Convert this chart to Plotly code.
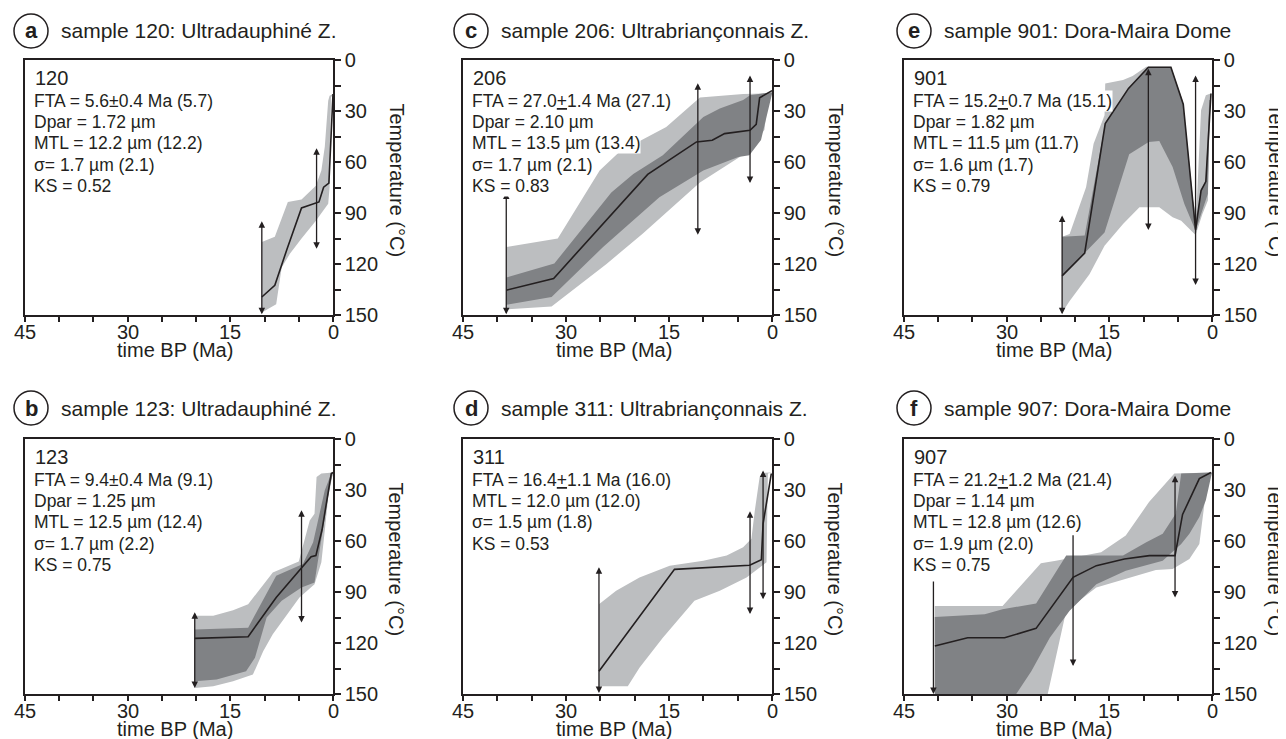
import plotly.graph_objects as go

# ---------------- data (time BP in Ma, temperature in °C) ----------------
# sample 120 (a)
s120_line_t = [10.4, 8.5, 6.7, 4.6, 2.05, 1.37, 0.6, 0.1, 0.0]
s120_line_T = [139.4, 132.5, 111, 87, 83.5, 74.8, 72.4, 25, 20]
s120_light_up_t = [10.4, 8.5, 6.6, 4.6, 2.5, 1.7, 1.2, 0.7, 0.5, 0.0]
s120_light_up_T = [107, 104, 83.5, 82, 74, 65, 51, 24, 21, 20]
s120_light_lo_t = [10.4, 8.3, 7.5, 6.3, 4.6, 2.5, 0.7, 0.5, 0.3]
s120_light_lo_T = [148.6, 143.7, 122, 114, 105, 94.5, 84.6, 75, 22]
s120_err_t = [10.4, 2.4]
s120_err_top = [94, 51]
s120_err_bot = [149.6, 111]

# sample 123 (b)
s123_line_t = [20.2, 12.4, 8.3, 3.2, 2.5, 1.6, 0.25, 0.0]
s123_line_T = [117.3, 116.3, 93.2, 69.2, 68.6, 53.4, 20.3, 19.7]
s123_light_up_t = [20.2, 17.5, 14.6, 12.4, 8.8, 5.0, 3.4, 2.7, 2.4, 1.7, 0.0]
s123_light_up_T = [104, 104, 100.7, 97.2, 78.5, 72, 47.9, 44, 22.3, 20.3, 19.7]
s123_light_lo_t = [20.2, 17.5, 14.6, 11.7, 10.2, 8.8, 4.9, 2.7, 1.7, 1.2, 0.7, 0.0]
s123_light_lo_T = [146.5, 145.5, 142.5, 138.6, 124.8, 114.9, 93.2, 85.4, 72.5, 53.8, 34.1, 19.7]
s123_dark_up_t = [20.2, 12.4, 8.3, 4.4, 2.9, 2.2, 1.2, 0.25, 0.0]
s123_dark_up_T = [112, 111, 80.4, 73.5, 60.7, 48.9, 30.2, 20.3, 19.7]
s123_dark_lo_t = [20.2, 17.0, 12.7, 11.4, 9.7, 7.5, 4.6, 2.7, 2.2, 1.5, 0.5, 0.0]
s123_dark_lo_T = [142.5, 141.5, 136.6, 128.7, 105, 95.2, 87.3, 84.4, 72.5, 53.8, 28.2, 19.7]
s123_err_t = [20.2, 4.6]
s123_err_top = [101, 41]
s123_err_bot = [146.5, 108]

# sample 206 (c)
s206_line_t = [38.7, 31.8, 18.1, 11.0, 8.7, 6.9, 3.2, 2.3, 1.8, 0.0]
s206_line_T = [135.4, 128.5, 67.3, 48.2, 47.2, 43.3, 41.3, 37.8, 22.2, 18]
s206_light_up_t = [38.7, 31.2, 25.1, 22.2, 15.4, 10.5, 4.2, 0.0]
s206_light_up_T = [110, 105, 65, 54, 39.4, 22, 20, 19.5]
s206_light_lo_t = [38.7, 32.1, 24.1, 18.8, 10.5, 4.7, 1.8, 1.1, 0.6, 0.0]
s206_light_lo_T = [146.7, 145, 120, 102, 72, 57, 45, 41, 23.6, 19.5]
s206_dark_up_t = [38.7, 31.7, 23.4, 20.2, 15.9, 10.0, 7.6, 4.2, 3.2, 0.0]
s206_dark_up_T = [128, 119.7, 78, 67, 56, 33.5, 28.5, 23.6, 20.7, 19]
s206_dark_lo_t = [38.7, 32.1, 24.6, 16.4, 10.0, 4.9, 3.3, 1.6, 0.8, 0.0]
s206_dark_lo_T = [144, 139.4, 110, 80.7, 65, 57, 56, 47, 33.5, 20]
s206_err_t = [38.7, 10.8, 3.2]
s206_err_top = [77, 12.8, 8.3]
s206_err_bot = [149.6, 102.8, 72.4]

# sample 311 (d)
s311_line_t = [25.2, 14.2, 3.25, 1.55, 1.3, 0.1]
s311_line_T = [136.6, 76.7, 74.3, 71, 49.9, 20.3]
s311_light_up_t = [25.2, 22.7, 19.3, 14.9, 10.0, 6.6, 4.2, 3.0, 2.5, 2.3, 1.8, 1.1, 0.0]
s311_light_up_T = [97.2, 89.3, 81.4, 74.5, 71.6, 68.6, 63.7, 58.7, 42, 36, 22.3, 19.9, 19.7]
s311_light_lo_t = [25.2, 21.0, 19.3, 15.9, 11.3, 7.6, 3.7, 0.8, 0.6]
s311_light_lo_T = [145.5, 145.5, 134.6, 116.9, 95.2, 89.3, 81.4, 72.5, 20.3]
s311_err_t = [25.2, 3.2, 1.3]
s311_err_top = [74.5, 41.6, 17.7]
s311_err_bot = [149.4, 103, 94.2]

# sample 901 (e)
s901_line_t = [21.9, 18.6, 15.6, 12.2, 9.3, 8.8, 6.0, 4.2, 2.4, 1.6, 0.9, 0.15]
s901_line_T = [127, 113.6, 37.4, 16.7, 4.3, 4.3, 4.3, 26, 100, 76.8, 71.5, 19.7]
s901_light_up_t = [21.9, 20.8, 18.4, 17.3, 15.7, 15.6, 13.0, 11.6, 9.6, 6.0, 4.3, 2.8, 2.3, 1.6, 0.9, 0.2]
s901_light_up_T = [103.9, 102.4, 74.8, 49.2, 32.5, 13.8, 11.8, 9.4, 3.9, 3.9, 23.6, 82.7, 90.6, 29.5, 20.7, 19.7]
s901_light_lo_t = [21.9, 20.8, 17.9, 15.7, 13.0, 10.6, 7.7, 5.75, 4.5, 2.4, 1.4, 0.6, 0.3]
s901_light_lo_T = [148.6, 141.7, 126, 109.3, 96.5, 86.6, 86.6, 92.5, 94.5, 103, 90.6, 82.7, 21.7]
s901_dark_up_t = [21.9, 18.6, 15.6, 12.2, 9.3, 6.0, 4.2, 2.4, 1.6, 0.9, 0.4]
s901_dark_up_T = [104, 103.3, 37.4, 16.7, 4.3, 4.3, 26, 96.9, 76.8, 70.9, 23.6]
s901_dark_lo_t = [21.9, 18.6, 15.7, 12.1, 9.25, 7.7, 5.75, 4.05, 2.4, 1.4, 0.6, 0.3]
s901_dark_lo_T = [127, 113.6, 101.4, 55.5, 48.2, 47.6, 63, 84.6, 100.4, 88.6, 78.7, 23.6]
s901_err_t = [21.9, 9.3, 2.4]
s901_err_top = [90.6, 4.3, 8.3]
s901_err_bot = [149.6, 100, 132.3]

# sample 907 (f)
s907_line_t = [40.5, 35.7, 30.3, 25.7, 20.3, 16.9, 12.8, 9.15, 5.4, 4.3, 1.85, 0.15]
s907_line_T = [121.8, 116.9, 116.9, 111.4, 81.4, 74.5, 70.6, 68.6, 68.6, 44.4, 23.3, 19.7]
s907_light_up_t = [40.5, 30.6, 25.0, 22.8, 16.2, 12.6, 9.2, 6.0, 5.5, 0.0]
s907_light_up_T = [98.2, 98.2, 73.1, 71.6, 66.6, 56.8, 37.1, 22.3, 20.3, 19.7]
s907_light_lo_t = [40.5, 24.0, 21.3, 16.9, 11.1, 8.2, 5.75, 3.3, 1.85, 1.1, 0.4, 0.0]
s907_light_lo_T = [150, 150, 101.1, 87.3, 80.4, 77.1, 76.5, 70.6, 61.7, 38, 20.3, 19.7]
s907_dark_up_t = [40.5, 33.2, 30.6, 25.7, 21.3, 13.0, 9.6, 7.2, 5.3, 4.5, 0.0]
s907_dark_up_T = [104.7, 103.1, 100.1, 96.8, 68.6, 68.6, 60.7, 55.8, 44, 20.3, 19.7]
s907_dark_lo_t = [40.5, 28.6, 26.4, 23.7, 20.8, 16.9, 12.6, 7.2, 4.5, 3.3, 1.85, 0.9, 0.0]
s907_dark_lo_T = [150, 150, 136.6, 116.9, 101.1, 85.4, 77.5, 71.6, 61.7, 55.8, 45.9, 36.1, 19.7]
s907_err_t = [40.7, 20.3, 5.4]
s907_err_top = [83, 55.8, 20.7]
s907_err_bot = [150, 133.6, 93.2]
s907_err_sides = ["end", "end", "end+start"]

# text
panel_letters = ["a", "c", "e", "b", "d", "f"]
panel_titles = ["sample 120: Ultradauphiné Z.", "sample 206: Ultrabriançonnais Z.",
                "sample 901: Dora-Maira Dome", "sample 123: Ultradauphiné Z.",
                "sample 311: Ultrabriançonnais Z.", "sample 907: Dora-Maira Dome"]
sample_ids = ["120", "206", "901", "123", "311", "907"]
info_lines = [
    ["FTA = 5.6±0.4 Ma (5.7)", "Dpar = 1.72 µm", "MTL = 12.2 µm (12.2)", "σ= 1.7 µm (2.1)", "KS = 0.52"],
    ["FTA = 27.0<u>+</u>1.4 Ma (27.1)", "Dpar = 2.10 µm", "MTL = 13.5 µm (13.4)", "σ= 1.7 µm (2.1)", "KS = 0.83"],
    ["FTA = 15.2<u>+</u>0.7 Ma (15.1)", "Dpar = 1.82 µm", "MTL = 11.5 µm (11.7)", "σ= 1.6 µm (1.7)", "KS = 0.79"],
    ["FTA = 9.4±0.4 Ma (9.1)", "Dpar = 1.25 µm", "MTL = 12.5 µm (12.4)", "σ= 1.7 µm (2.2)", "KS = 0.75"],
    ["FTA = 16.4<u>+</u>1.1 Ma (16.0)", "MTL = 12.0 µm (12.0)", "σ= 1.5 µm (1.8)", "KS = 0.53"],
    ["FTA = 21.2<u>+</u>1.2 Ma (21.4)", "Dpar = 1.14 µm", "MTL = 12.8 µm (12.6)", "σ= 1.9 µm (2.0)", "KS = 0.75"],
]
x_tickvals = [45, 30, 15, 0]
y_tickvals = [0, 30, 60, 90, 120, 150]
x_title = "time BP (Ma)"
y_title = "Temperature (°C)"

# ---------------- layout geometry (page pixels) ----------------
PAGE_W, PAGE_H = 1286, 739
OFF = 8                      # default page margin before the plot div
W, H = PAGE_W - OFF, PAGE_H - OFF
COLS = [(25, 333), (463, 772), (904, 1212)]
ROWS = [(60, 315), (439, 694)]
LIGHT = "#bcbec0"
DARK = "#808285"
INK = "#231f20"
FONT = "Liberation Sans, Arial, sans-serif"


def px(x):
    return (x - OFF) / W


def py(y):
    return 1 - (y - OFF) / H


panels = [
    dict(line=(s120_line_t, s120_line_T), light=(s120_light_up_t, s120_light_up_T, s120_light_lo_t, s120_light_lo_T),
         dark=None, err=(s120_err_t, s120_err_top, s120_err_bot, None)),
    dict(line=(s206_line_t, s206_line_T), light=(s206_light_up_t, s206_light_up_T, s206_light_lo_t, s206_light_lo_T),
         dark=(s206_dark_up_t, s206_dark_up_T, s206_dark_lo_t, s206_dark_lo_T), err=(s206_err_t, s206_err_top, s206_err_bot, None)),
    dict(line=(s901_line_t, s901_line_T), light=(s901_light_up_t, s901_light_up_T, s901_light_lo_t, s901_light_lo_T),
         dark=(s901_dark_up_t, s901_dark_up_T, s901_dark_lo_t, s901_dark_lo_T), err=(s901_err_t, s901_err_top, s901_err_bot, None)),
    dict(line=(s123_line_t, s123_line_T), light=(s123_light_up_t, s123_light_up_T, s123_light_lo_t, s123_light_lo_T),
         dark=(s123_dark_up_t, s123_dark_up_T, s123_dark_lo_t, s123_dark_lo_T), err=(s123_err_t, s123_err_top, s123_err_bot, None)),
    dict(line=(s311_line_t, s311_line_T), light=(s311_light_up_t, s311_light_up_T, s311_light_lo_t, s311_light_lo_T),
         dark=None, err=(s311_err_t, s311_err_top, s311_err_bot, None)),
    dict(line=(s907_line_t, s907_line_T), light=(s907_light_up_t, s907_light_up_T, s907_light_lo_t, s907_light_lo_T),
         dark=(s907_dark_up_t, s907_dark_up_T, s907_dark_lo_t, s907_dark_lo_T), err=(s907_err_t, s907_err_top, s907_err_bot, s907_err_sides)),
]

fig = go.Figure()
annotations = []
shapes = []
layout_axes = {}

for i, p in enumerate(panels):
    n = i + 1
    r, c = divmod(i, 3)
    x0, x1 = COLS[c]
    y0, y1 = ROWS[r]
    xa = "x" if n == 1 else f"x{n}"
    ya = "y" if n == 1 else f"y{n}"
    xkey = "xaxis" if n == 1 else f"xaxis{n}"
    ykey = "yaxis" if n == 1 else f"yaxis{n}"

    def band(b, color):
        ut, uT, lt, lT = b
        fig.add_trace(go.Scatter(x=list(ut) + list(lt)[::-1], y=list(uT) + list(lT)[::-1],
                                 fill="toself", fillcolor=color, mode="lines", line=dict(width=0, color=color),
                                 xaxis=xa, yaxis=ya, showlegend=False, hoverinfo="skip"))

    band(p["light"], LIGHT)
    if p["dark"] is not None:
        band(p["dark"], DARK)
    lt, lT = p["line"]
    fig.add_trace(go.Scatter(x=lt, y=lT, mode="lines", line=dict(color=INK, width=1.6),
                             xaxis=xa, yaxis=ya, showlegend=False))
    et, etop, ebot, sides = p["err"]
    for k in range(len(et)):
        side = "end+start" if sides is None else sides[k]
        annotations.append(dict(x=et[k], y=ebot[k], ax=et[k], ay=etop[k], xref=xa, yref=ya,
                                axref=xa, ayref=ya, text="", showarrow=True, arrowhead=2,
                                arrowsize=1.0, arrowwidth=1.3, arrowcolor=INK, arrowside=side,
                                standoff=0, startstandoff=0, startarrowhead=2, startarrowsize=1.0))

    common_line = dict(showline=True, linecolor=INK, linewidth=1.5, mirror=True, showgrid=False,
                       zeroline=False, ticks="outside", tickwidth=1.5, tickcolor=INK, automargin=False,
                       tickfont=dict(family=FONT, size=20, color=INK))
    layout_axes[xkey] = dict(domain=[px(x0), px(x1)], range=[45, 0], anchor=ya,
                             tickvals=x_tickvals, showticklabels=False, ticklen=5,
                             minor=dict(dtick=5, tick0=0, ticks="outside", ticklen=5, tickwidth=1.5, tickcolor=INK),
                             **common_line)
    layout_axes[ykey] = dict(domain=[py(y1), py(y0)], range=[150, 0], anchor=xa, side="right",
                             tickvals=y_tickvals, ticktext=[str(v) for v in y_tickvals], ticklen=6,
                             minor=dict(dtick=15, tick0=0, ticks="outside", ticklen=6, tickwidth=1.5, tickcolor=INK),
                             **common_line)

    # x tick labels (placed on the data scale of the x axis)
    for v in x_tickvals:
        annotations.append(dict(x=v, y=py(y1 + 17), xref=xa, yref="paper", text=str(v), showarrow=False,
                                xanchor="center", yanchor="middle", font=dict(family=FONT, size=20, color=INK)))

    # axis titles
    annotations.append(dict(x=px((x0 + x1) / 2 - 4), y=py(y1 + 35), xref="paper", yref="paper",
                            text=x_title, showarrow=False, xanchor="center", yanchor="middle",
                            font=dict(family=FONT, size=20, color=INK)))
    annotations.append(dict(x=px(x1 + 63), y=py((y0 + y1) / 2 - 7), xref="paper", yref="paper",
                            text=y_title, showarrow=False, textangle=90, xanchor="center", yanchor="middle",
                            font=dict(family=FONT, size=20, color=INK)))

    # panel letter circle and title
    cx = [31, 471, 914][c]
    cy = [31, 408][r]
    rad = 17
    shapes.append(dict(type="circle", xref="paper", yref="paper", x0=px(cx - rad), x1=px(cx + rad),
                       y0=py(cy + rad), y1=py(cy - rad), line=dict(color=INK, width=1.5)))
    annotations.append(dict(x=px(cx), y=py(cy), xref="paper", yref="paper", text=f"<b>{panel_letters[i]}</b>",
                            showarrow=False, xanchor="center", yanchor="middle",
                            font=dict(family=FONT, size=22, color=INK)))
    annotations.append(dict(x=px(cx + 28), y=py(cy), xref="paper", yref="paper", text=panel_titles[i],
                            showarrow=False, xanchor="left", yanchor="middle",
                            font=dict(family=FONT, size=21, color=INK)))

    # info text
    annotations.append(dict(x=px(x0 + 8), y=py(y0 + 18), xref="paper", yref="paper", text=sample_ids[i],
                            showarrow=False, xanchor="left", yanchor="middle",
                            font=dict(family=FONT, size=20, color=INK)))
    for k, txt in enumerate(info_lines[i]):
        annotations.append(dict(x=px(x0 + 8), y=py(y0 + 41 + 21.2 * k), xref="paper", yref="paper", text=txt,
                                showarrow=False, xanchor="left", yanchor="middle", bgcolor="white", borderpad=0,
                                font=dict(family=FONT, size=17.5, color=INK)))

fig.update_layout(width=W, height=H, margin=dict(l=0, r=0, t=0, b=0), paper_bgcolor="white",
                  plot_bgcolor="white", showlegend=False, annotations=annotations, shapes=shapes,
                  **layout_axes)
fig.write_html("out.html")
